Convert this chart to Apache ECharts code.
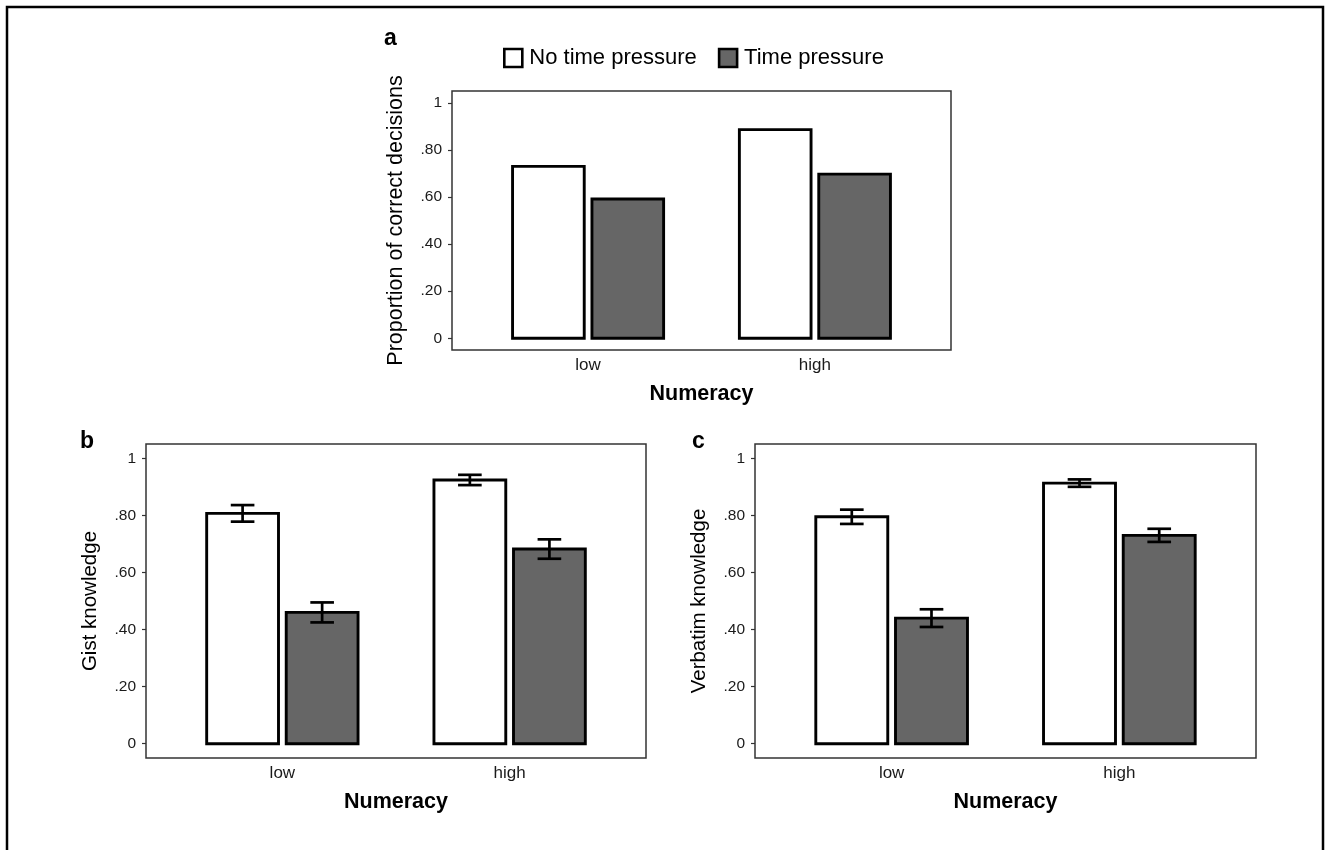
<!DOCTYPE html>
<html>
<head>
<meta charset="utf-8">
<script src="https://cdn.jsdelivr.net/npm/echarts@6/dist/echarts.min.js"></script>
<style>
html,body{margin:0;padding:0;background:#fff;}
#chart{width:1329px;height:850px;}
</style>
</head>
<body>
<div id="chart"></div>
<script>
// ---- data ----
const categories = ['low', 'high'];
const seriesNames = ['No time pressure', 'Time pressure'];
const yTickValues = [0, 0.2, 0.4, 0.6, 0.8, 1];
const yTickLabels = ['0', '.20', '.40', '.60', '.80', '1'];

const panelA_noTP = [0.73, 0.886];
const panelA_TP = [0.591, 0.697];

const panelB_noTP = [0.807, 0.924];
const panelB_noTP_err = [0.029, 0.018];
const panelB_TP = [0.460, 0.682];
const panelB_TP_err = [0.035, 0.034];

const panelC_noTP = [0.795, 0.913];
const panelC_noTP_err = [0.025, 0.013];
const panelC_TP = [0.440, 0.730];
const panelC_TP_err = [0.031, 0.023];

const yTitles = ['Proportion of correct decisions', 'Gist knowledge', 'Verbatim knowledge'];
const xTitle = 'Numeracy';
const panelLetters = ['a', 'b', 'c'];

// ---- styling ----
const FONT = 'Liberation Sans, Arial, Helvetica, sans-serif';
const fills = ['#ffffff', '#666666'];
const offsets = [-0.175, 0.175];
const halfW = 0.158;
const capHalf = 0.052;
const yTitleSizes = [21.5, 20.5, 20.5];

function makeData(vals, errs) {
  return vals.map((v, i) => [i + 1, v, errs ? errs[i] : 0]);
}

function barSeries(name, k, gridIdx, vals, errs) {
  return {
    type: 'custom',
    name: name,
    xAxisIndex: gridIdx,
    yAxisIndex: gridIdx,
    itemStyle: { color: fills[k], borderColor: '#000', borderWidth: 2.5 },
    data: makeData(vals, errs),
    renderItem: function (params, api) {
      const x = api.value(0), y = api.value(1), e = api.value(2);
      const off = offsets[k];
      const p0 = api.coord([x + off - halfW, y]);
      const p1 = api.coord([x + off + halfW, 0]);
      const children = [{
        type: 'rect',
        shape: { x: p0[0], y: p0[1], width: p1[0] - p0[0], height: p1[1] - p0[1] },
        style: { fill: fills[k], stroke: '#000', lineWidth: 2.9 }
      }];
      if (e > 0) {
        const top = api.coord([x + off, y + e]);
        const bot = api.coord([x + off, y - e]);
        const cl = api.coord([x + off - capHalf, y])[0];
        const cr = api.coord([x + off + capHalf, y])[0];
        const st = { stroke: '#000', lineWidth: 2.7 };
        children.push({ type: 'line', shape: { x1: top[0], y1: top[1], x2: bot[0], y2: bot[1] }, style: st });
        children.push({ type: 'line', shape: { x1: cl, y1: top[1], x2: cr, y2: top[1] }, style: st });
        children.push({ type: 'line', shape: { x1: cl, y1: bot[1], x2: cr, y2: bot[1] }, style: st });
      }
      return { type: 'group', children: children };
    }
  };
}

const grids = [
  { left: 452, top: 91, width: 499, height: 259 },
  { left: 146, top: 444, width: 500, height: 314 },
  { left: 755, top: 444, width: 501, height: 314 }
].map(g => Object.assign(g, { show: true, borderColor: '#333', borderWidth: 1.5, backgroundColor: 'transparent' }));

const xAxes = grids.map((g, i) => ({
  type: 'value', gridIndex: i, min: 0.4, max: 2.6,
  splitLine: { show: false },
  axisLine: { show: false },
  axisTick: { show: false },
  axisLabel: {
    customValues: [1, 2],
    formatter: v => categories[Math.round(v) - 1],
    color: '#1a1a1a', fontSize: 17, fontFamily: FONT, margin: 7
  },
  name: xTitle, nameLocation: 'middle', nameGap: 33,
  nameTextStyle: { fontSize: 21.5, fontWeight: 'bold', color: '#000', fontFamily: FONT }
}));

const yAxes = grids.map((g, i) => ({
  type: 'value', gridIndex: i, min: -0.05, max: 1.05,
  splitLine: { show: false },
  axisLine: { show: false },
  axisTick: { show: true, length: 4, customValues: yTickValues, lineStyle: { color: '#333', width: 1.2 } },
  axisLabel: {
    customValues: yTickValues,
    formatter: v => { const idx = yTickValues.findIndex(t => Math.abs(t - v) < 1e-6); return idx >= 0 ? yTickLabels[idx] : ''; },
    color: '#1a1a1a', fontSize: 15.5, fontFamily: FONT, margin: 10
  },
  name: yTitles[i], nameLocation: 'middle', nameGap: 45,
  nameTextStyle: { fontSize: yTitleSizes[i], color: '#000', fontFamily: FONT }
}));

const series = [
  barSeries(seriesNames[0], 0, 0, panelA_noTP, null),
  barSeries(seriesNames[1], 1, 0, panelA_TP, null),
  barSeries(seriesNames[0], 0, 1, panelB_noTP, panelB_noTP_err),
  barSeries(seriesNames[1], 1, 1, panelB_TP, panelB_TP_err),
  barSeries(seriesNames[0], 0, 2, panelC_noTP, panelC_noTP_err),
  barSeries(seriesNames[1], 1, 2, panelC_TP, panelC_TP_err)
];

const chart = echarts.init(document.getElementById('chart'), null, { renderer: 'canvas' });
chart.setOption({
  animation: false,
  backgroundColor: '#fff',
  grid: grids,
  xAxis: xAxes,
  yAxis: yAxes,
  legend: {
    data: seriesNames,
    left: 503, top: 47, padding: 0,
    icon: 'rect',
    itemWidth: 18, itemHeight: 18, itemGap: 21,
    itemStyle: { borderColor: '#000', borderWidth: 2.6 },
    textStyle: { fontSize: 22, color: '#000', fontFamily: FONT, padding: [0, 0, 0, 2] },
    selectedMode: false
  },
  graphic: [
    { type: 'polyline', shape: { points: [[7, 850], [7, 7], [1323, 7], [1323, 850]] }, style: { stroke: '#000', lineWidth: 2.5, fill: null } },
    { type: 'text', left: 384, top: 27, style: { text: panelLetters[0], font: 'bold 23px ' + FONT, fill: '#000' } },
    { type: 'text', left: 80, top: 430, style: { text: panelLetters[1], font: 'bold 23px ' + FONT, fill: '#000' } },
    { type: 'text', left: 692, top: 430, style: { text: panelLetters[2], font: 'bold 23px ' + FONT, fill: '#000' } }
  ],
  series: series
});
</script>
</body>
</html>
